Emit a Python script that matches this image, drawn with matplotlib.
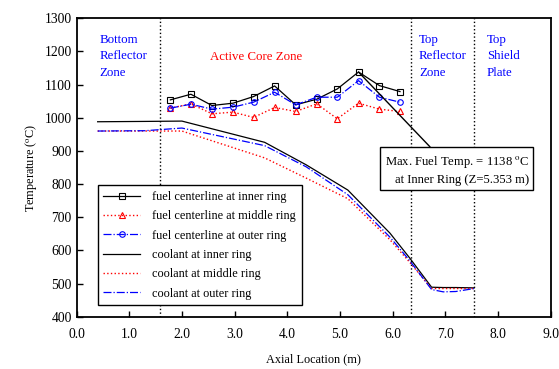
import numpy as np
import matplotlib
matplotlib.use('Agg')
import matplotlib.pyplot as plt

plt.rcParams['font.family'] = ['Liberation Serif', 'DejaVu Serif']
plt.rcParams['mathtext.fontset'] = 'stix'

# fuel centerline temperatures (12 axial nodes in active core)
z_fuel = [1.78, 2.17, 2.57, 2.97, 3.36, 3.76, 4.16, 4.56, 4.95, 5.353, 5.75, 6.14]
fuel_inner = [1054, 1071, 1037, 1044, 1064, 1096, 1039, 1056, 1087, 1138, 1097, 1079]
fuel_middle = [1029, 1042, 1012, 1017, 1001, 1031, 1019, 1042, 997, 1044, 1026, 1019]
fuel_outer = [1029, 1041, 1026, 1032, 1047, 1077, 1039, 1062, 1062, 1112, 1062, 1047]

# coolant temperatures
z_cool = [0.4, 1.3, 2.0, 3.57, 4.36, 5.15, 5.95, 6.32, 6.74, 6.96, 7.2, 7.55]
cool_inner = [988, 989, 990, 926, 858, 782, 652, 578, 489, 488, 488, 487]
cool_middle = [960, 960, 960, 879, 818, 756, 632, 565, 485, 485, 485, 485]
cool_outer = [960, 961, 969, 916, 852, 768, 640, 570, 482, 475, 476, 485]

zone_bounds = [1.59, 6.35, 7.55]

fig = plt.figure(figsize=(5.59, 3.69), dpi=100)
ax = fig.add_axes([0.137, 0.1417, 0.848, 0.8087])

ax.plot(z_fuel, fuel_inner, '-', color='black', lw=0.9, marker='s', ms=4,
        mfc='none', mec='black', mew=0.8, label='fuel centerline at inner ring')
ax.plot(z_fuel, fuel_middle, ':', color='red', lw=1.0, marker='^', ms=4.5,
        mfc='none', mec='red', mew=0.8, label='fuel centerline at middle ring')
ax.plot(z_fuel, fuel_outer, '-.', color='blue', lw=0.9, marker='o', ms=4,
        mfc='none', mec='blue', mew=0.8, label='fuel centerline at outer ring')
ax.plot(z_cool, cool_inner, '-', color='black', lw=0.9, label='coolant at inner ring')
ax.plot(z_cool, cool_middle, ':', color='red', lw=1.0, label='coolant at middle ring')
ax.plot(z_cool, cool_outer, '-.', color='blue', lw=0.9, label='coolant at outer ring')

for zb in zone_bounds:
    ax.axvline(zb, color='black', ls=':', lw=1.0)

ax.set_xlim(0, 9)
ax.set_ylim(400, 1300)
ax.set_xticks(np.arange(0, 9.1, 1.0))
ax.set_xticklabels([f'{v:.1f}' for v in np.arange(0, 9.1, 1.0)])
ax.set_yticks(np.arange(400, 1301, 100))
ax.tick_params(direction='in', labelsize=9.8, length=4, width=1)
ax.tick_params(axis='x', pad=8)
for s in ax.spines.values():
    s.set_linewidth(1.3)

ax.set_xlabel('Axial Location (m)', fontsize=8.8, labelpad=9)
ax.set_ylabel(r'Temperature ($^{\rm o}$C)', fontsize=8.8)

zkw = dict(fontsize=9.3, va='top', ha='left', linespacing=1.5)
ax.text(0.43, 1254, 'Bottom\nReflector\nZone', color='blue', **zkw)
ax.text(3.41, 1182, 'Active Core Zone', color='red', fontsize=9.3, va='center', ha='center')
ax.text(6.50, 1254, 'Top\nReflector\nZone', color='blue', **zkw)
ax.text(7.79, 1254, 'Top\nShield\nPlate', color='blue', **zkw)

ax.annotate('Max. Fuel Temp. = 1138 $^{\\rm o}$C\nat Inner Ring (Z=5.353 m)',
            xy=(5.353, 1138), xytext=(7.22, 843), fontsize=9.1,
            ha='center', va='center', multialignment='right', linespacing=1.45,
            bbox=dict(boxstyle='square,pad=0.35', fc='white', ec='black', lw=1.0),
            arrowprops=dict(arrowstyle='-', color='black', lw=1.0,
                            relpos=(0.36, 1.0), shrinkA=0, shrinkB=0))

leg = ax.legend(loc='lower left', bbox_to_anchor=(0.045, 0.039), fontsize=8.8,
                frameon=True, fancybox=False, edgecolor='black', framealpha=1,
                handlelength=3.0, handletextpad=1.0, borderpad=0.45,
                labelspacing=0.6, borderaxespad=0)
leg.get_frame().set_linewidth(1.0)

fig.savefig('out.png', dpi=100)
